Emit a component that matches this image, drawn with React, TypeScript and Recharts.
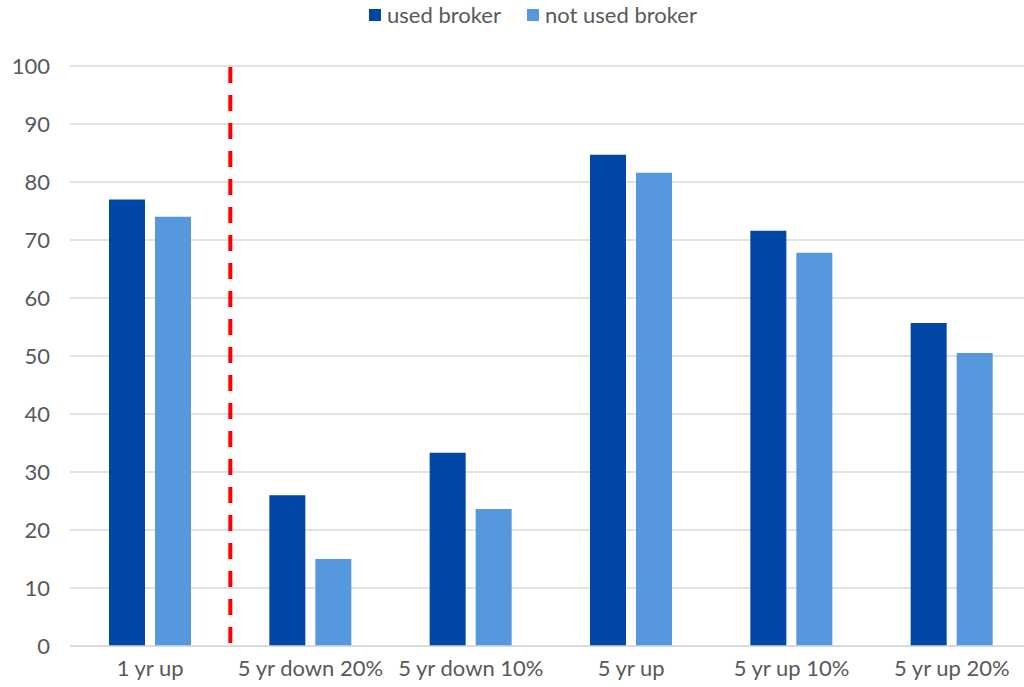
import React from 'react';
import { BarChart, Bar, XAxis, YAxis, CartesianGrid, ReferenceLine } from 'recharts';

const categories = ['1 yr up', '5 yr down 20%', '5 yr down 10%', '5 yr up', '5 yr up 10%', '5 yr up 20%'];
const usedBroker = [77, 26, 33.3, 84.7, 71.6, 55.7];
const notUsedBroker = [74, 15, 23.6, 81.6, 67.8, 50.5];
const yTicks = [0, 10, 20, 30, 40, 50, 60, 70, 80, 90, 100];

const data = categories.map((name, i) => ({
  name,
  used: usedBroker[i],
  notUsed: notUsedBroker[i],
}));

const FONT = 'Lato, "Open Sans", sans-serif';
const TEXT = '#595959';
const DARK = '#0047A6';
const LIGHT = '#5598DD';

const legendItems = [
  { label: 'used broker', color: DARK },
  { label: 'not used broker', color: LIGHT },
];

const ChartLegend = () => (
  <div
    style={{
      position: 'absolute',
      top: 2,
      left: 21,
      width: 1024,
      display: 'flex',
      justifyContent: 'center',
      gap: 26,
      fontFamily: FONT,
      fontSize: 22,
      lineHeight: '26px',
      color: TEXT,
    }}
  >
    {legendItems.map((it) => (
      <div key={it.label} style={{ display: 'flex', alignItems: 'center' }}>
        <span style={{ display: 'inline-block', width: 12, height: 12, background: it.color, marginRight: 6 }} />
        <span>{it.label}</span>
      </div>
    ))}
  </div>
);

export default function App() {
  return (
    <div
      style={{
        position: 'absolute',
        left: 0,
        top: 0,
        width: 1024,
        height: 687,
        background: '#fff',
        overflow: 'hidden',
      }}
    >
      <BarChart
        width={1034}
        height={687}
        data={data}
        margin={{ top: 66, right: 2, left: 0, bottom: 0 }}
        barSize={36}
        barGap={10}
      >
        <CartesianGrid vertical={false} stroke="#d9d9d9" strokeWidth={1.5} />
        <XAxis
          dataKey="name"
          height={41}
          axisLine={{ stroke: '#d9d9d9', strokeWidth: 1.5 }}
          tickLine={false}
          tick={{ fill: TEXT, fontSize: 22, fontFamily: FONT }}
          dy={6}
          interval={0}
        />
        <YAxis
          width={70}
          domain={[0, 100]}
          ticks={yTicks}
          axisLine={false}
          tickLine={false}
          tick={{ fill: TEXT, fontSize: 22, fontFamily: FONT }}
          dx={-12}
        />
        <Bar dataKey="used" name="used broker" fill={DARK} isAnimationActive={false} />
        <Bar dataKey="notUsed" name="not used broker" fill={LIGHT} isAnimationActive={false} />
        <ReferenceLine
          x="1 yr up"
          position="end"
          stroke="#ff0000"
          strokeWidth={4}
          strokeDasharray="16 12"
          strokeDashoffset={-3}
        />
      </BarChart>
      <ChartLegend />
    </div>
  );
}
